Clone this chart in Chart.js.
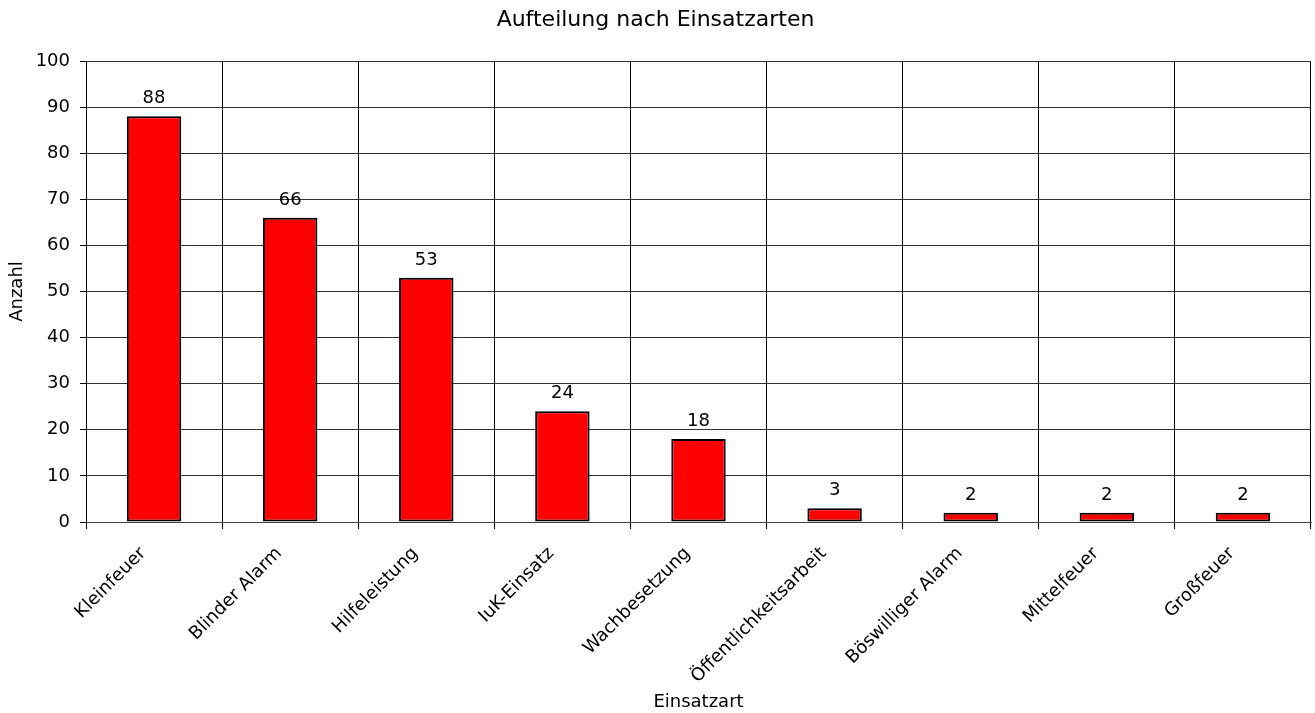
<!DOCTYPE html>
<html>
<head>
<meta charset="utf-8">
<script src="https://cdn.jsdelivr.net/npm/chart.js@4"></script>
<style>
  body { margin: 0; background: #fff; }
  #wrap { width: 1315px; height: 713px; position: relative; }
</style>
</head>
<body>
<div id="wrap"><canvas id="einsatzChart"></canvas></div>
<script>
// Daten aus dem Diagramm
var kategorien = ['Kleinfeuer', 'Blinder Alarm', 'Hilfeleistung', 'IuK-Einsatz', 'Wachbesetzung',
  'Öffentlichkeitsarbeit', 'Böswilliger Alarm', 'Mittelfeuer', 'Großfeuer'];
var anzahl = [88, 66, 53, 24, 18, 3, 2, 2, 2];
var yMin = 0;
var yMax = 100;
var yStep = 10;

var schrift = "'DejaVu Sans', Verdana, sans-serif";
Chart.defaults.font.family = schrift;
Chart.defaults.color = '#000';

// Werte über die Balken schreiben
var wertLabels = {
  id: 'wertLabels',
  afterDatasetsDraw: function(chart) {
    var ctx = chart.ctx;
    var meta = chart.getDatasetMeta(0);
    ctx.save();
    ctx.font = '18px ' + schrift;
    ctx.fillStyle = '#000';
    ctx.textAlign = 'center';
    ctx.textBaseline = 'alphabetic';
    meta.data.forEach(function(bar, i) {
      ctx.fillText(chart.data.datasets[0].data[i], bar.x, bar.y - 13);
    });
    ctx.restore();
  }
};

var ctx = document.getElementById('einsatzChart').getContext('2d');
var einsatzChart = new Chart(ctx, {
  type: 'bar',
  data: {
    labels: kategorien,
    datasets: [{
      label: 'Anzahl',
      data: anzahl,
      backgroundColor: '#ff0000',
      borderColor: '#000',
      borderWidth: 2,
      borderSkipped: false,
      barPercentage: 0.4,
      categoryPercentage: 1.0
    }]
  },
  options: {
    responsive: true,
    maintainAspectRatio: false,
    animation: false,
    layout: { padding: { top: 0, right: 4, left: 0, bottom: 0 } },
    plugins: {
      legend: { display: false },
      tooltip: { enabled: false },
      title: {
        display: true,
        text: 'Aufteilung nach Einsatzarten',
        color: '#000',
        font: { size: 22, weight: 'normal' },
        padding: { top: 7, bottom: 27.6 }
      }
    },
    scales: {
      x: {
        offset: true,
        grid: { display: true, offset: true, color: '#000', lineWidth: 1, tickLength: 7, tickColor: '#000' },
        border: { display: true, color: '#444' },
        ticks: { minRotation: 45, maxRotation: 45, padding: 14, labelOffset: -11, font: { size: 18 } },
        title: { display: true, text: 'Einsatzart', font: { size: 18 }, padding: { top: 0, bottom: 0 } },
        afterFit: function(scale) { scale.height = 191; }
      },
      y: {
        min: yMin,
        max: yMax,
        grid: { color: '#333', lineWidth: 1, tickLength: 6, tickColor: '#000' },
        border: { display: true, color: '#000' },
        ticks: { stepSize: yStep, padding: 10, font: { size: 18 } },
        title: { display: true, text: 'Anzahl', font: { size: 18 }, padding: { top: 7, bottom: 0 } },
        afterFit: function(scale) { scale.width = 86; }
      }
    }
  },
  plugins: [wertLabels]
});
</script>
</body>
</html>
